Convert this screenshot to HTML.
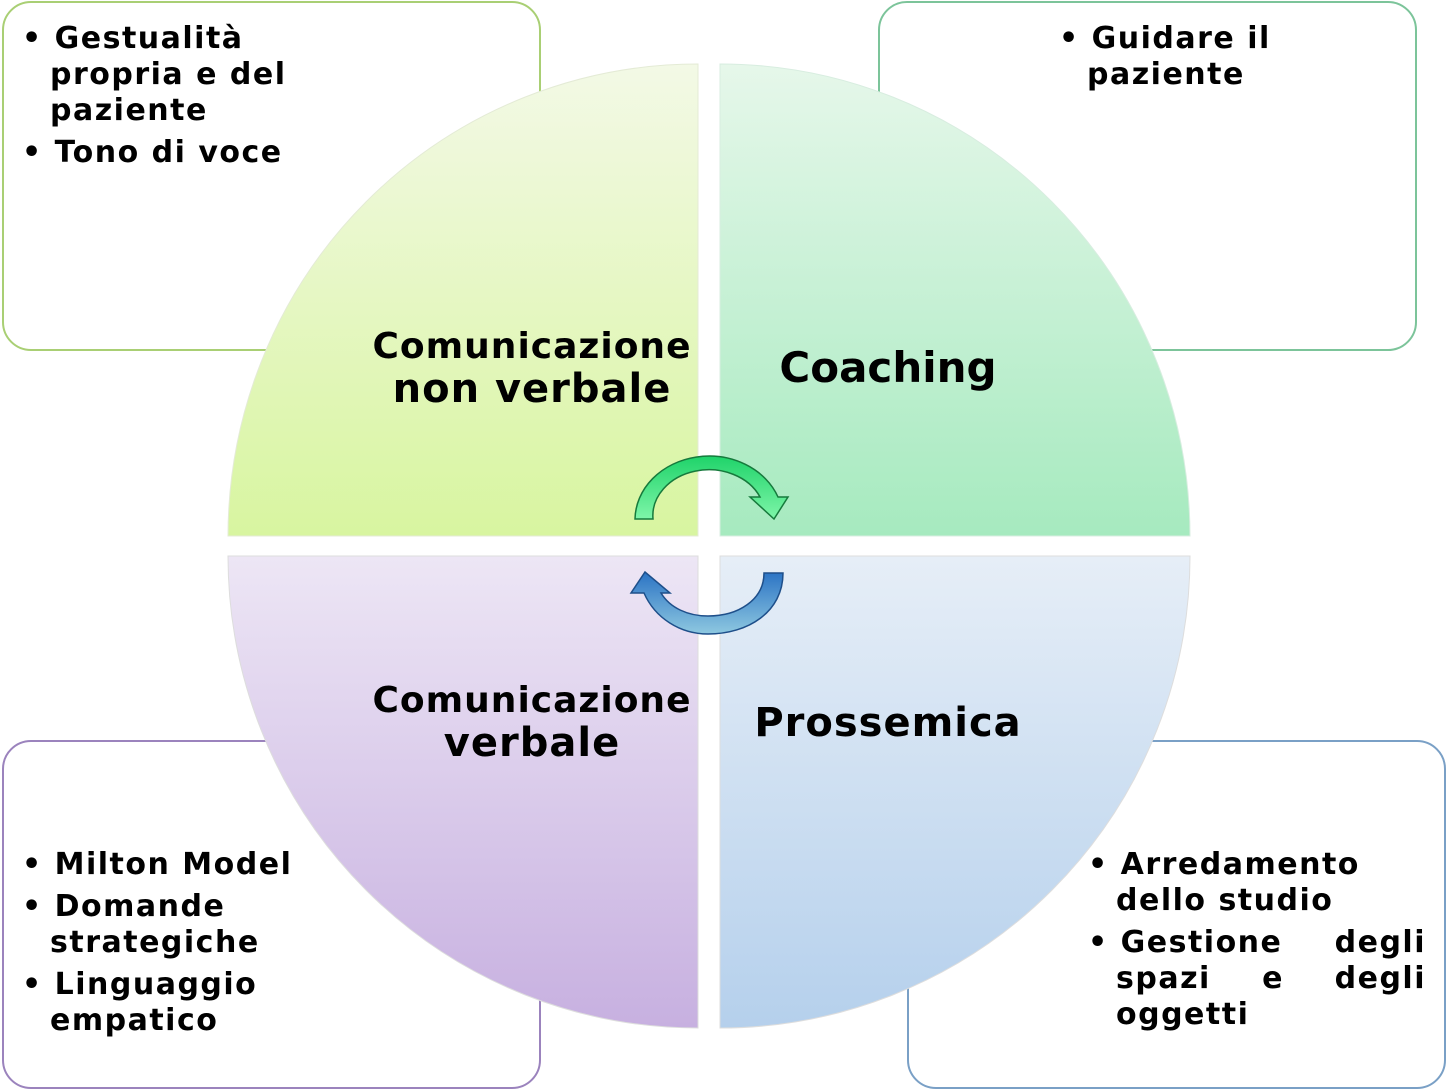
<!DOCTYPE html>
<html><head><meta charset="utf-8"><style>
html,body{margin:0;padding:0;background:#fff;}
svg{display:block;}
text{font-family:"DejaVu Sans","Liberation Sans",sans-serif;font-weight:bold;fill:#000;}
</style></head><body>
<svg width="1448" height="1091" viewBox="0 0 1448 1091" xmlns="http://www.w3.org/2000/svg">
<defs>
<linearGradient id="g1" x1="0" y1="0" x2="0" y2="1"><stop offset="0" stop-color="#f3f9e6"/><stop offset="1" stop-color="#d8f5a0"/></linearGradient>
<linearGradient id="g2" x1="0" y1="0" x2="0" y2="1"><stop offset="0" stop-color="#e6f7ea"/><stop offset="1" stop-color="#a6eabf"/></linearGradient>
<linearGradient id="g3" x1="0" y1="0" x2="0" y2="1"><stop offset="0" stop-color="#ede6f5"/><stop offset="1" stop-color="#c7b0e0"/></linearGradient>
<linearGradient id="g4" x1="0" y1="0" x2="0" y2="1"><stop offset="0" stop-color="#e6eef7"/><stop offset="1" stop-color="#b5d0ec"/></linearGradient>
<linearGradient id="ag" x1="0" y1="0" x2="0" y2="1"><stop offset="0" stop-color="#1fd36a"/><stop offset="1" stop-color="#7ef5a8"/></linearGradient>
<linearGradient id="ab" x1="0" y1="0" x2="0" y2="1"><stop offset="0" stop-color="#2b73c4"/><stop offset="1" stop-color="#8ec8e0"/></linearGradient>
</defs>
<rect x="3" y="2" width="537" height="348" rx="28" fill="#fff" stroke="#a9cf74" stroke-width="2"/>
<rect x="879" y="2" width="537" height="348" rx="28" fill="#fff" stroke="#7cc49a" stroke-width="2"/>
<rect x="3" y="741" width="537" height="347" rx="28" fill="#fff" stroke="#9b83bd" stroke-width="2"/>
<rect x="908" y="741" width="537" height="347" rx="28" fill="#fff" stroke="#7aa0c6" stroke-width="2"/>

<path d="M698,536 L228,536 A470,472 0 0 1 698,64 Z" fill="url(#g1)" stroke="#e4ebd6" stroke-width="1"/>
<path d="M720,536 L720,64 A470,472 0 0 1 1190,536 Z" fill="url(#g2)" stroke="#d8ede0" stroke-width="1"/>
<path d="M698,556 L228,556 A470,472 0 0 0 698,1028 Z" fill="url(#g3)" stroke="#ddd" stroke-width="1"/>
<path d="M720,556 L720,1028 A470,472 0 0 0 1190,556 Z" fill="url(#g4)" stroke="#ddd" stroke-width="1"/>

<!-- green arrow -->
<path d="M635,519 A74,64 0 0 1 778,497 L788,497 L774,519 L750,497 L760,497 A56,46 0 0 0 653,519 Z" fill="url(#ag)" stroke="#167a3c" stroke-width="1.5"/>
<!-- blue arrow -->
<path d="M783,573 C783,612 748,634 708,634 C680,634 655,618 644,593 L631,593 L645,572 L670,593 L661,593 C670,608 688,616 708,616 C738,616 764,600 764,573 Z" fill="url(#ab)" stroke="#1e4f8a" stroke-width="1.5"/>

<text x="532" y="358" font-size="36" text-anchor="middle" letter-spacing="1">Comunicazione</text>
<text x="532" y="402" font-size="40" text-anchor="middle" letter-spacing="1">non verbale</text>
<text x="888" y="382" font-size="42" text-anchor="middle">Coaching</text>
<text x="532" y="712" font-size="36" text-anchor="middle" letter-spacing="1">Comunicazione</text>
<text x="532" y="756" font-size="40" text-anchor="middle" letter-spacing="1">verbale</text>
<text x="888" y="736" font-size="40" text-anchor="middle" letter-spacing="1">Prossemica</text>

<g font-size="30" letter-spacing="1.5">
<text x="22" y="48">• Gestualità</text>
<text x="50" y="84">propria e del</text>
<text x="50" y="120">paziente</text>
<text x="22" y="162">• Tono di voce</text>
<text x="1059" y="48">• Guidare il</text>
<text x="1087" y="84">paziente</text>
<text x="22" y="874">• Milton Model</text>
<text x="22" y="916">• Domande</text>
<text x="50" y="952">strategiche</text>
<text x="22" y="994">• Linguaggio</text>
<text x="50" y="1030">empatico</text>
<text x="1088" y="874">• Arredamento</text>
<text x="1116" y="910">dello studio</text>
<text x="1088" y="952">• Gestione</text>
<text x="1426" y="952" text-anchor="end">degli</text>
<text x="1116" y="988">spazi</text>
<text x="1273" y="988" text-anchor="middle">e</text>
<text x="1426" y="988" text-anchor="end">degli</text>
<text x="1116" y="1024">oggetti</text>
</g>
</svg>
</body></html>
